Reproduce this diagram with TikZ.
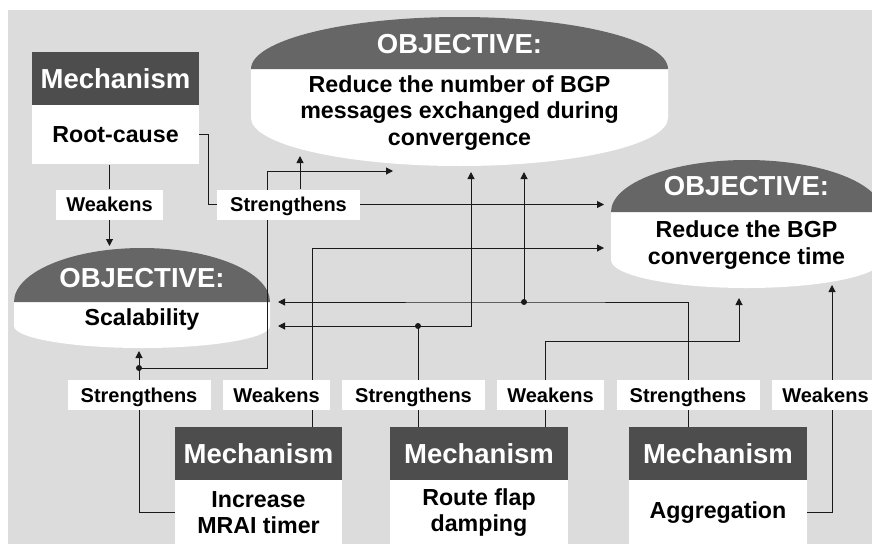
\documentclass[tikz,border=0pt]{standalone}
\usepackage{fontspec}
\setmainfont{Liberation Sans}
\usetikzlibrary{positioning,arrows.meta}

\definecolor{bggray}{HTML}{DCDCDC}
\definecolor{mechgray}{HTML}{4D4D4D}
\definecolor{objgray}{HTML}{666666}
\definecolor{linegray}{HTML}{1A1A1A}

\pgfdeclarelayer{bg}
\pgfdeclarelayer{wires}
\pgfsetlayers{bg,wires,main}

\newcommand\headfont{\fontsize{27.5}{31}\selectfont\bfseries}
\newcommand\bodyfont{\fontsize{23.2}{26.5}\selectfont\bfseries}
\newcommand\lblfont{\fontsize{20}{22}\selectfont\bfseries}

% objective shape: left, right, top, divider, side end, bottom
\newcommand\objshape[6]{%
  \pgfmathsetmacro\objrx{(#2-#1)/2}%
  \pgfmathsetmacro\objryt{#4-#3}%
  \pgfmathsetmacro\objryb{#6-#5}%
  \fill[white] (#1,#4) -- (#1,#5) arc[start angle=180, end angle=360, x radius=\objrx pt, y radius=\objryb pt] -- (#2,#4) -- cycle;
  \fill[objgray] (#1,#4) arc[start angle=180, end angle=0, x radius=\objrx pt, y radius=\objryt pt] -- cycle;
}

\begin{document}
\begin{tikzpicture}[x=1pt, y=-1pt, >={Triangle[length=7pt,width=7pt]},
    mechhead/.style={fill=mechgray, text=white, font=\headfont, minimum width=167pt, minimum height=53pt, inner sep=0pt, text height=21pt, text depth=1pt},
    mechbody/.style={fill=white, font=\bodyfont, align=center, minimum width=167pt, minimum height=64pt, inner sep=0pt},
    lbl/.style={fill=white, font=\lblfont, minimum height=30pt, inner sep=0pt, text height=15pt, text depth=1pt},
    weak/.style={lbl, minimum width=107pt}, strong/.style={lbl, minimum width=143pt},
    objhead/.style={text=white, font=\headfont, inner sep=0pt, text height=21pt, text depth=1pt},
    objbody/.style={font=\bodyfont, align=center},
    wire/.style={draw=linegray, line width=1pt}]
  \useasboundingbox (0,0) rectangle (872,544);
  \begin{pgfonlayer}{bg}
    \fill[white] (0,0) rectangle (872,544);
    \fill[bggray] (8,10) rectangle (872,544);
    \objshape{251}{668}{17}{69}{118}{166}
    \objshape{611}{882}{160}{212}{260}{288}
    \objshape{14}{270}{248}{302}{326}{348}
  \end{pgfonlayer}

  % mechanisms
  \node[mechhead] (rootH) at (115.5,78.5) {Mechanism};
  \node[mechbody, below=0pt of rootH, minimum height=59pt] (root) {Root-cause};
  \node[mechhead] (mraiH) at (258.5,453.5) {Mechanism};
  \node[mechbody, below=0pt of mraiH] (mrai) {Increase\\MRAI timer};
  \node[mechhead, minimum width=178pt] (rfdH) at (479,453.5) {Mechanism};
  \node[mechbody, minimum width=178pt, below=0pt of rfdH] (rfd) {Route flap\\damping};
  \node[mechhead, minimum width=178pt] (aggH) at (718,453.5) {Mechanism};
  \node[mechbody, minimum width=178pt, below=0pt of aggH] (agg) {Aggregation};

  % objectives
  \node[objhead] (msgH) at (459.5,43) {OBJECTIVE:};
  \node[objbody] (msg) at (459.5,113) {Reduce the number of BGP\\messages exchanged during\\convergence};
  \node[objhead] (convH) at (746.5,185) {OBJECTIVE:};
  \node[objbody] (conv) at (746.5,245) {Reduce the BGP\\convergence time};
  \node[objhead] (scalH) at (142,277) {OBJECTIVE:};
  \node[objbody] (scal) at (142,319) {Scalability};

  % effect labels
  \node[weak] (wk0) at (109.5,204.5) {Weakens};
  \node[strong] (st0) at (288.5,204.5) {Strengthens};
  \node[strong] (st1) at (139,395) {Strengthens};
  \node[weak] (wk1) at (276.5,395) {Weakens};
  \node[strong] (st2) at (413.5,395) {Strengthens};
  \node[weak] (wk2) at (550.5,395) {Weakens};
  \node[strong] (st3) at (688,395) {Strengthens};
  \node[weak] (wk3) at (825.5,395) {Weakens};

  % arrow ends, bends and joins
  \coordinate (scalN) at (109.5,246);
  \coordinate (scalS) at (139,351);
  \coordinate (scalE1) at (278,302);
  \coordinate (scalE2) at (278,326);
  \coordinate (msgS1) at (300,156);
  \coordinate (msgS2) at (393,171);
  \coordinate (msgS3) at (471,172);
  \coordinate (msgS4) at (524,172);
  \coordinate (convW1) at (604,204.5);
  \coordinate (convW2) at (604,248);
  \coordinate (convS1) at (739,298);
  \coordinate (convS2) at (832,285);
  \coordinate (b1) at (267,171);
  \coordinate (b2) at (312,248);
  \coordinate (b3) at (545,341);
  \coordinate (j1) at (139,368);
  \coordinate (j2) at (418,326);
  \coordinate (j3) at (524,302);

  \begin{pgfonlayer}{wires}
    \draw[wire] (wk0 |- root.south) -- (wk0.north);
    \draw[wire,->] (wk0.south) -- (scalN);
    \draw[wire] (root.east) -- ++(9,0) |- (st0.west);
    \draw[wire,->] (st0.east) -- (convW1);
    \draw[wire,->] (st0.north -| msgS1) -- (msgS1);
    \draw[wire] (st1.north) -- (j1);
    \draw[wire,->] (j1) -- (scalS);
    \draw[wire,->] (j1) -| (b1) -- (msgS2);
    \draw[wire] (st1.south) |- (mrai.west);
    \draw[wire] (wk1.south -| b2) -- (mraiH.north -| b2);
    \draw[wire,->] (wk1.north -| b2) -- (b2) -- (convW2);
    \draw[wire] (st2.south -| j2) -- (rfdH.north -| j2);
    \draw[wire] (st2.north -| j2) -- (j2);
    \draw[wire,->] (j2) -- (scalE2);
    \draw[wire,->] (j2) -| (msgS3);
    \draw[wire] (wk2.south -| b3) -- (rfdH.north -| b3);
    \draw[wire,->] (wk2.north -| b3) -- (b3) -| (convS1);
    \draw[wire] (st3.south) -- (aggH.north -| st3.south);
    \draw[wire,->] (st3.north) |- (j3) -- (scalE1);
    \draw[wire,->] (j3) -- (msgS4);
    \draw[wire] (wk3.south -| convS2) |- (agg.east);
    \draw[wire,->] (wk3.north -| convS2) -- (convS2);
    \foreach \j in {j1,j2,j3} \fill[linegray] (\j) circle (3pt);
  \end{pgfonlayer}
\end{tikzpicture}
\end{document}
